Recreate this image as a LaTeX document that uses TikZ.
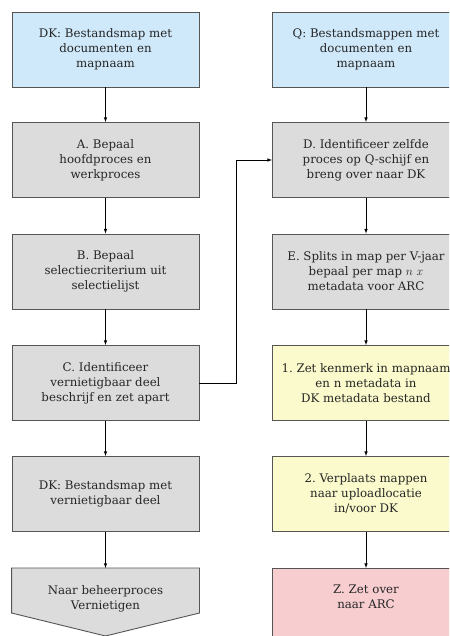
\documentclass[tikz,border=0pt]{standalone}
\usepackage{fontspec}
\setmainfont{DejaVu Serif}
\usetikzlibrary{arrows,positioning,calc,backgrounds}
\definecolor{bluebox}{RGB}{207,233,251}
\definecolor{graybox}{RGB}{220,220,220}
\definecolor{yellowbox}{RGB}{250,250,204}
\definecolor{pinkbox}{RGB}{247,205,208}
\definecolor{edgecolor}{RGB}{85,85,85}
\frenchspacing

\begin{document}
\begin{tikzpicture}[x=1pt,y=-1pt,
  box/.style={draw=edgecolor,line width=0.9pt,minimum width=187pt,minimum height=75pt,
    align=center,inner sep=0pt,text=black!85,font=\fontsize{11.8}{15}\selectfont},
  flow/.style={-latex,line width=0.6pt}]
\useasboundingbox (0,0) rectangle (449,636);
\clip (0,0) rectangle (449,636);

% left column
\node[box,fill=bluebox] (dk) at (105.5,49.5) {DK: Bestandsmap met\\documenten en\\mapnaam};
\node[box,fill=graybox] (A) at (105.5,160) {A. Bepaal\\hoofdproces en\\werkproces};
\node[box,fill=graybox] (B) at (105.5,271.5) {B. Bepaal\\selectiecriterium uit\\selectielijst};
\node[box,fill=graybox] (C) at (105.5,383) {C. Identificeer\\vernietigbaar deel\\beschrijf en zet apart};
\node[box,fill=graybox] (dkv) at (105.5,494) {DK: Bestandsmap met\\vernietigbaar deel};
\node[box,draw=none,minimum height=60pt,anchor=north] (naar) at (105.5,568) {Naar beheerproces\\Vernietigen};
\begin{scope}[on background layer]
\draw[edgecolor,fill=graybox,line width=0.9pt] (naar.north west) -- (naar.north east)
  -- ($(naar.north east)+(0,45)$) -- ($(naar.north)+(0,68)$) -- ($(naar.north west)+(0,45)$) -- cycle;
\end{scope}

% right column
\node[box,fill=bluebox] (Q) at (366,49.5) {Q: Bestandsmappen met\\documenten en\\mapnaam};
\node[box,fill=graybox] (D) at (366,160) {D. Identificeer zelfde\\proces op Q-schijf en\\breng over naar DK};
\node[box,fill=graybox] (E) at (366,271.5) {E. Splits in map per V-jaar\\bepaal per map $n$ $x$\\metadata voor ARC};
\node[box,fill=yellowbox] (s1) at (366,383) {1. Zet kenmerk in mapnaam\\en n metadata in\\DK metadata bestand};
\node[box,fill=yellowbox] (s2) at (366,494) {2. Verplaats mappen\\naar uploadlocatie\\in/voor DK};
\node[box,fill=pinkbox,anchor=north] (Z) at (366,568)
  {\raisebox{7.5pt}[\height][\depth]{\begin{tabular}{@{}c@{}}Z. Zet over\\naar ARC\end{tabular}}};

\foreach \a/\b in {dk/A, A/B, B/C, C/dkv, dkv/naar, Q/D, D/E, E/s1, s1/s2, s2/Z}
  \draw[flow] (\a) -- (\b);
\draw[flow] (C.east) -- ++(37,0) |- (D.west);
\end{tikzpicture}
\end{document}
